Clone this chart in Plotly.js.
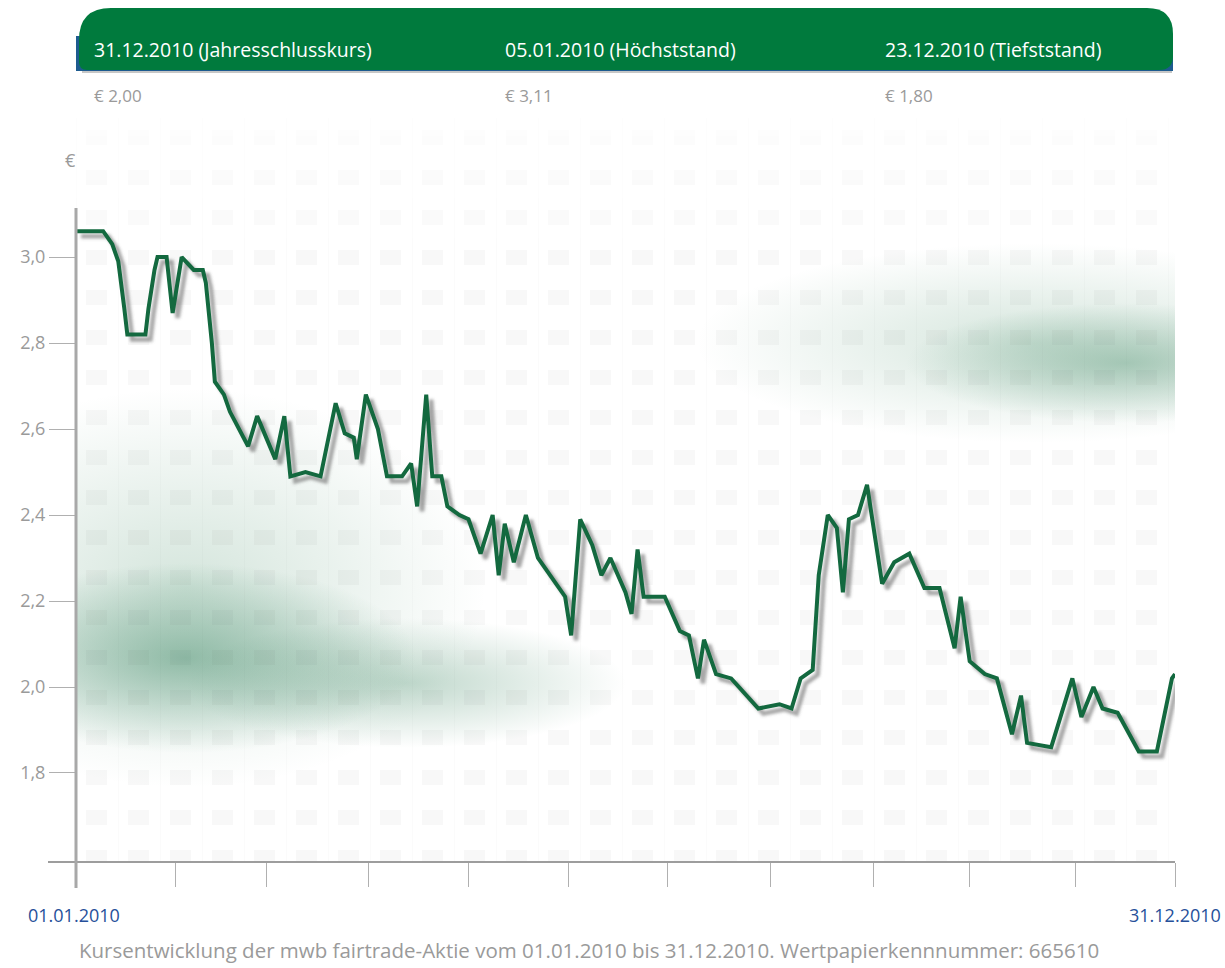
<!DOCTYPE html>
<html>
<head>
<meta charset="utf-8">
<script src="https://cdn.plot.ly/plotly-3.0.1.min.js"></script>
<style>
  html, body { margin: 0; padding: 0; background: #ffffff; }
  #wrap { position: relative; width: 1225px; height: 968px; overflow: hidden; }
  #haze, #blocks { position: absolute; left: 76px; top: 118px; width: 1099px; height: 744px; }
  #haze {
    background:
      radial-gradient(ellipse 220px 60px at 1050px 245px, rgba(70,140,105,0.40), rgba(70,140,105,0) 100%),
      radial-gradient(ellipse 340px 100px at 960px 225px, rgba(90,155,120,0.26), rgba(90,155,120,0) 100%),
      radial-gradient(ellipse 230px 95px at 110px 540px, rgba(60,135,100,0.50), rgba(60,135,100,0) 100%),
      radial-gradient(ellipse 220px 65px at 330px 565px, rgba(70,140,105,0.34), rgba(70,140,105,0) 100%),
      radial-gradient(ellipse 300px 200px at 110px 470px, rgba(90,155,120,0.26), rgba(90,155,120,0) 100%);
  }
  #blocks {
    -webkit-mask-image: linear-gradient(to bottom, rgba(0,0,0,0.3) 0px, #000 140px);
    mask-image: linear-gradient(to bottom, rgba(0,0,0,0.3) 0px, #000 140px);
  }
  #plot { position: absolute; left: 0; top: 0; width: 1225px; height: 968px; }
</style>
</head>
<body>
<div id="wrap">
  <div id="haze"></div>
  <div id="blocks"></div>
  <div id="plot"></div>
</div>
<script>
// Closing prices of the mwb fairtrade share, 2010
const dates = ['2010-01-01','2010-01-10','2010-01-13','2010-01-15','2010-01-17','2010-01-18','2010-01-24','2010-01-25','2010-01-27','2010-01-28',
  '2010-01-31','2010-02-02','2010-02-05','2010-02-09','2010-02-12','2010-02-13','2010-02-15','2010-02-16','2010-02-19','2010-02-21',
  '2010-02-27','2010-03-02','2010-03-08','2010-03-11','2010-03-13','2010-03-18','2010-03-23','2010-03-28','2010-03-31','2010-04-03',
  '2010-04-04','2010-04-07','2010-04-11','2010-04-14','2010-04-19','2010-04-22','2010-04-24','2010-04-27','2010-04-29','2010-05-02',
  '2010-05-04','2010-05-08','2010-05-11','2010-05-15','2010-05-19','2010-05-21','2010-05-23','2010-05-26','2010-05-30','2010-06-03',
  '2010-06-12','2010-06-14','2010-06-17','2010-06-21','2010-06-24','2010-06-27','2010-07-02','2010-07-04','2010-07-06','2010-07-08',
  '2010-07-15','2010-07-20','2010-07-23','2010-07-26','2010-07-28','2010-08-01','2010-08-06','2010-08-15','2010-08-22','2010-08-26',
  '2010-08-29','2010-09-02','2010-09-04','2010-09-07','2010-09-10','2010-09-12','2010-09-14','2010-09-17','2010-09-20','2010-09-25',
  '2010-09-29','2010-10-04','2010-10-09','2010-10-14','2010-10-19','2010-10-21','2010-10-24','2010-10-29','2010-11-02','2010-11-07',
  '2010-11-10','2010-11-12','2010-11-20','2010-11-27','2010-11-30','2010-12-04','2010-12-07','2010-12-12','2010-12-19','2010-12-25',
  '2010-12-30','2010-12-31'];
const prices = [3.06,3.06,3.03,2.99,2.88,2.82,2.82,2.88,2.97,3.00,
  3.00,2.87,3.00,2.97,2.97,2.94,2.80,2.71,2.68,2.64,
  2.56,2.63,2.53,2.63,2.49,2.50,2.49,2.66,2.59,2.58,
  2.53,2.68,2.60,2.49,2.49,2.52,2.42,2.68,2.49,2.49,
  2.42,2.40,2.39,2.31,2.40,2.26,2.38,2.29,2.40,2.30,
  2.21,2.12,2.39,2.33,2.26,2.30,2.22,2.17,2.32,2.21,
  2.21,2.13,2.12,2.02,2.11,2.03,2.02,1.95,1.96,1.95,
  2.02,2.04,2.26,2.40,2.37,2.22,2.39,2.40,2.47,2.24,
  2.29,2.31,2.23,2.23,2.09,2.21,2.06,2.03,2.02,1.89,
  1.98,1.87,1.86,2.02,1.93,2.00,1.95,1.94,1.85,1.85,
  2.02,2.03];

// Key figures in the header
const keyLabels = ['31.12.2010 (Jahresschlusskurs)', '05.01.2010 (Höchststand)', '23.12.2010 (Tiefststand)'];
const keyValues = ['€ 2,00', '€ 3,11', '€ 1,80'];
const yTicks = [1.8, 2.0, 2.2, 2.4, 2.6, 2.8, 3.0];
// unlabelled tick marks along the time axis
const xTicks = ['2010-01-01','2010-02-03','2010-03-05','2010-04-08','2010-05-11','2010-06-13','2010-07-16',
  '2010-08-19','2010-09-22','2010-10-24','2010-11-28','2010-12-31'];
const xEndLabels = ['01.01.2010', '31.12.2010'];
const caption = 'Kursentwicklung der mwb fairtrade-Aktie vom 01.01.2010 bis 31.12.2010. Wertpapierkennnummer: 665610';

// Page geometry of the plot area (px)
const L = 76, R = 1175, T = 208, B = 862;
const px = x => (x - L) / (R - L);
const py = y => (B - y) / (B - T);

const xStart = Date.UTC(2010, 0, 1), xEnd = Date.UTC(2010, 11, 31);
const yRange = [1.593, 3.114];
const msPerPx = (xEnd - xStart) / (R - L);
const valPerPx = (yRange[1] - yRange[0]) / (B - T);
const shX = 5, shY = 5; // drop shadow offset in px
const iso = ms => new Date(ms).toISOString().replace('T', ' ').slice(0, 19);

// background block texture
const blockSvg = "<svg xmlns='http://www.w3.org/2000/svg' width='42' height='40'>" +
  "<rect x='10' y='12' width='21' height='15' fill='rgba(60,70,65,0.035)'/>" +
  "<rect x='0' y='0' width='1' height='40' fill='rgba(60,70,65,0.018)'/></svg>";
document.getElementById('blocks').style.backgroundImage = 'url("data:image/svg+xml;utf8,' + encodeURIComponent(blockSvg) + '")';

const green = '#13693f';
const grey = '#9d9d9d';
const font = 'Open Sans, Noto Sans, sans-serif';

const traces = [
  { // shadow
    x: dates, y: prices, xaxis: 'x', yaxis: 'y', type: 'scatter', mode: 'lines',
    line: { color: 'rgba(95,95,95,0.55)', width: 4.5 }, hoverinfo: 'skip'
  },
  {
    x: dates, y: prices, xaxis: 'x2', yaxis: 'y2', type: 'scatter', mode: 'lines',
    line: { color: green, width: 4 }, name: 'Kurs'
  }
];

function rrectPath(x0, y0, x1, y1, rTL, rTR, rBR, rBL) {
  const P = (x, y) => px(x).toFixed(5) + ',' + py(y).toFixed(5);
  return 'M' + P(x0 + rTL, y0) + ' L' + P(x1 - rTR, y0) + ' Q' + P(x1, y0) + ' ' + P(x1, y0 + rTR) +
    ' L' + P(x1, y1 - rBR) + ' Q' + P(x1, y1) + ' ' + P(x1 - rBR, y1) +
    ' L' + P(x0 + rBL, y1) + ' Q' + P(x0, y1) + ' ' + P(x0, y1 - rBL) +
    ' L' + P(x0, y0 + rTL) + ' Q' + P(x0, y0) + ' ' + P(x0 + rTL, y0) + ' Z';
}

const shapes = [
  { type: 'path', xref: 'paper', yref: 'paper', path: rrectPath(76, 36, 1173, 71, 0, 0, 0, 0), fillcolor: '#1d5b8f', line: { width: 0 } },
  { type: 'line', xref: 'paper', yref: 'paper', x0: px(82), x1: px(1172), y0: py(72), y1: py(72), line: { color: 'rgba(0,0,0,0.22)', width: 2 } },
  { type: 'path', xref: 'paper', yref: 'paper', path: rrectPath(79, 8, 1173, 70, 32, 26, 14, 8), fillcolor: '#007a3d', line: { width: 0 } },
  // x axis line reaching left of the y axis
  { type: 'line', xref: 'paper', yref: 'paper', x0: px(48), x1: 1, y0: 0, y1: 0, line: { color: grey, width: 2.2 } },
  // y axis line, continuing below the x axis
  { type: 'line', xref: 'paper', yref: 'paper', x0: 0, x1: 0, y0: py(888), y1: 1, line: { color: '#a8a8a8', width: 3 } }
];

const annotations = [];
const headX = [92, 503, 883];
keyLabels.forEach((t, i) => annotations.push({
  xref: 'paper', yref: 'paper', x: px(headX[i]), y: py(50), xanchor: 'left', yanchor: 'middle',
  text: t, showarrow: false, font: { family: font, size: 19.5, color: '#ffffff' }
}));
keyValues.forEach((t, i) => annotations.push({
  xref: 'paper', yref: 'paper', x: px(headX[i]), y: py(95), xanchor: 'left', yanchor: 'middle',
  text: t, showarrow: false, font: { family: font, size: 17, color: '#9a9a9a' }
}));
annotations.push({
  xref: 'paper', yref: 'paper', x: px(70), y: py(160), xanchor: 'center', yanchor: 'middle',
  text: '€', showarrow: false, font: { family: font, size: 18, color: '#9a9a9a' }
});
annotations.push({
  xref: 'paper', yref: 'paper', x: px(74), y: py(915), xanchor: 'center', yanchor: 'middle',
  text: xEndLabels[0], showarrow: false, font: { family: font, size: 18, color: '#26509a' }
});
annotations.push({
  xref: 'paper', yref: 'paper', x: px(1175), y: py(915), xanchor: 'center', yanchor: 'middle',
  text: xEndLabels[1], showarrow: false, font: { family: font, size: 18, color: '#26509a' }
});
annotations.push({
  xref: 'paper', yref: 'paper', x: px(77), y: py(950), xanchor: 'left', yanchor: 'middle',
  text: caption, showarrow: false, font: { family: font, size: 20.5, color: '#9a9a9a' }
});

const layout = {
  width: 1225, height: 968,
  margin: { l: L, r: 1225 - R, t: T, b: 968 - B, pad: 0 },
  paper_bgcolor: 'rgba(0,0,0,0)', plot_bgcolor: 'rgba(0,0,0,0)',
  separators: ',.',
  showlegend: false,
  font: { family: font, color: '#9a9a9a' },
  xaxis: {
    type: 'date', range: [iso(xStart - shX * msPerPx), iso(xEnd - shX * msPerPx)],
    visible: false, fixedrange: true
  },
  yaxis: {
    range: [yRange[0] + shY * valPerPx, yRange[1] + shY * valPerPx],
    visible: false, fixedrange: true
  },
  xaxis2: {
    type: 'date', range: [iso(xStart), iso(xEnd)], overlaying: 'x', anchor: 'y2', side: 'bottom',
    showgrid: false, zeroline: false, showline: false,
    tickmode: 'array', tickvals: xTicks, ticks: 'outside', ticklen: 24, tickwidth: 1, tickcolor: '#b0b0b0',
    showticklabels: false, fixedrange: true
  },
  yaxis2: {
    range: yRange, overlaying: 'y', anchor: 'x2', side: 'left',
    showgrid: false, zeroline: false, showline: false,
    tickmode: 'array', tickvals: yTicks, tickformat: '.1f',
    ticks: 'outside', ticklen: 26, tickwidth: 1, tickcolor: '#b0b0b0',
    tickfont: { family: font, size: 18, color: '#9a9a9a' }, fixedrange: true
  },
  shapes: shapes,
  annotations: annotations
};

Plotly.newPlot('plot', traces, layout, { staticPlot: true, displayModeBar: false }).then(gd => {
  // soften the drop shadow of the price line
  const svg = gd.querySelector('svg.main-svg');
  const ns = 'http://www.w3.org/2000/svg';
  let defs = svg.querySelector('defs');
  if (!defs) { defs = document.createElementNS(ns, 'defs'); svg.insertBefore(defs, svg.firstChild); }
  const f = document.createElementNS(ns, 'filter');
  f.setAttribute('id', 'lineShadowBlur');
  f.setAttribute('x', '-5%'); f.setAttribute('y', '-5%');
  f.setAttribute('width', '110%'); f.setAttribute('height', '110%');
  const g = document.createElementNS(ns, 'feGaussianBlur');
  g.setAttribute('stdDeviation', '1.8');
  f.appendChild(g); defs.appendChild(f);
  const lines = gd.querySelectorAll('.scatterlayer .trace path.js-line');
  if (lines.length) lines[0].setAttribute('filter', 'url(#lineShadowBlur)');
});
</script>
</body>
</html>
